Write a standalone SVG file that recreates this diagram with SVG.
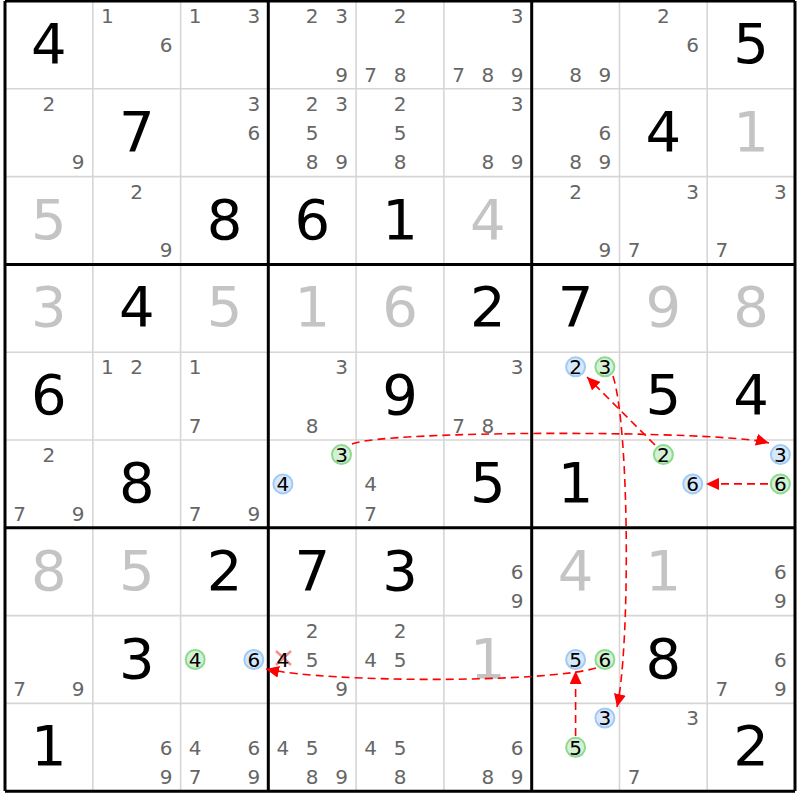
<svg xmlns="http://www.w3.org/2000/svg" width="800" height="800" viewBox="0 0 800 800">
<style>
text{font-family:"DejaVu Sans","Verdana",sans-serif;text-anchor:middle}
.g{font-size:56px;fill:#000}
.f{font-size:56px;fill:#c4c4c4}
.c{font-size:20px;fill:#666}
.k{font-size:20px;fill:#000}
.hb{fill:#d8e8fb;stroke:#9fcbf6;stroke-width:2}
.hg{fill:#d5f1d5;stroke:#8cda8c;stroke-width:2}
.thin{stroke:#d6d6d6;stroke-width:1.6}
.thick{stroke:#000;stroke-width:3}
.arr{fill:none;stroke:#f00;stroke-width:1.6;stroke-dasharray:8 5;marker-end:url(#ah)}
.x{stroke:#f59090;stroke-width:2.5}
</style>
<defs>
<marker id="ah" markerUnits="userSpaceOnUse" markerWidth="14" markerHeight="12" refX="13" refY="6" orient="auto"><path d="M0,0 L13,6 L0,12 z" fill="#f00"/></marker>
</defs>
<rect width="800" height="800" fill="#fff"/>
<g id="grid">
<path class="thin" d="M92.8,1V791M180.6,1V791M356.1,1V791M443.9,1V791M619.5,1V791M707.2,1V791M5,88.8H795M5,176.6H795M5,352.2H795M5,440H795M5,615.6H795M5,703.4H795"/>
<path class="thick" d="M5,1V791M268.3,1V791M531.7,1V791M795,1V791M5,1H795M5,264.4H795M5,527.8H795M5,791.2H795"/>
</g>
<g id="r1c1"><text class="g" x="48.9" y="63">4</text></g>
<g id="r1c2"><text class="c" x="107.4" y="22.9">1</text><text class="c" x="166" y="52.2">6</text></g>
<g id="r1c3"><text class="c" x="195.2" y="22.9">1</text><text class="c" x="253.8" y="22.9">3</text></g>
<g id="r1c4"><text class="c" x="312.2" y="22.9">2</text><text class="c" x="341.5" y="22.9">3</text><text class="c" x="341.5" y="81.5">9</text></g>
<g id="r1c5"><text class="c" x="400" y="22.9">2</text><text class="c" x="370.7" y="81.5">7</text><text class="c" x="400" y="81.5">8</text></g>
<g id="r1c6"><text class="c" x="517.1" y="22.9">3</text><text class="c" x="458.5" y="81.5">7</text><text class="c" x="487.8" y="81.5">8</text><text class="c" x="517.1" y="81.5">9</text></g>
<g id="r1c7"><text class="c" x="575.6" y="81.5">8</text><text class="c" x="604.9" y="81.5">9</text></g>
<g id="r1c8"><text class="c" x="663.4" y="22.9">2</text><text class="c" x="692.7" y="52.2">6</text></g>
<g id="r1c9"><text class="g" x="751.1" y="63">5</text></g>

<g id="r2c1"><text class="c" x="48.9" y="110.7">2</text><text class="c" x="78.2" y="169.3">9</text></g>
<g id="r2c2"><text class="g" x="136.7" y="150.8">7</text></g>
<g id="r2c3"><text class="c" x="253.8" y="110.7">3</text><text class="c" x="253.8" y="140">6</text></g>
<g id="r2c4"><text class="c" x="312.2" y="110.7">2</text><text class="c" x="341.5" y="110.7">3</text><text class="c" x="312.2" y="140">5</text><text class="c" x="312.2" y="169.3">8</text><text class="c" x="341.5" y="169.3">9</text></g>
<g id="r2c5"><text class="c" x="400" y="110.7">2</text><text class="c" x="400" y="140">5</text><text class="c" x="400" y="169.3">8</text></g>
<g id="r2c6"><text class="c" x="517.1" y="110.7">3</text><text class="c" x="487.8" y="169.3">8</text><text class="c" x="517.1" y="169.3">9</text></g>
<g id="r2c7"><text class="c" x="604.9" y="140">6</text><text class="c" x="575.6" y="169.3">8</text><text class="c" x="604.9" y="169.3">9</text></g>
<g id="r2c8"><text class="g" x="663.4" y="150.8">4</text></g>
<g id="r2c9"><text class="f" x="751.1" y="150.8">1</text></g>

<g id="r3c1"><text class="f" x="48.9" y="238.6">5</text></g>
<g id="r3c2"><text class="c" x="136.7" y="198.5">2</text><text class="c" x="166" y="257.1">9</text></g>
<g id="r3c3"><text class="g" x="224.5" y="238.6">8</text></g>
<g id="r3c4"><text class="g" x="312.2" y="238.6">6</text></g>
<g id="r3c5"><text class="g" x="400" y="238.6">1</text></g>
<g id="r3c6"><text class="f" x="487.8" y="238.6">4</text></g>
<g id="r3c7"><text class="c" x="575.6" y="198.5">2</text><text class="c" x="604.9" y="257.1">9</text></g>
<g id="r3c8"><text class="c" x="692.7" y="198.5">3</text><text class="c" x="634.1" y="257.1">7</text></g>
<g id="r3c9"><text class="c" x="780.4" y="198.5">3</text><text class="c" x="721.8" y="257.1">7</text></g>

<g id="r4c1"><text class="f" x="48.9" y="326.4">3</text></g>
<g id="r4c2"><text class="g" x="136.7" y="326.4">4</text></g>
<g id="r4c3"><text class="f" x="224.5" y="326.4">5</text></g>
<g id="r4c4"><text class="f" x="312.2" y="326.4">1</text></g>
<g id="r4c5"><text class="f" x="400" y="326.4">6</text></g>
<g id="r4c6"><text class="g" x="487.8" y="326.4">2</text></g>
<g id="r4c7"><text class="g" x="575.6" y="326.4">7</text></g>
<g id="r4c8"><text class="f" x="663.4" y="326.4">9</text></g>
<g id="r4c9"><text class="f" x="751.1" y="326.4">8</text></g>

<g id="r5c1"><text class="g" x="48.9" y="414.2">6</text></g>
<g id="r5c2"><text class="c" x="107.4" y="374.1">1</text><text class="c" x="136.7" y="374.1">2</text></g>
<g id="r5c3"><text class="c" x="195.2" y="374.1">1</text><text class="c" x="195.2" y="432.7">7</text></g>
<g id="r5c4"><text class="c" x="341.5" y="374.1">3</text><text class="c" x="312.2" y="432.7">8</text></g>
<g id="r5c5"><text class="g" x="400" y="414.2">9</text></g>
<g id="r5c6"><text class="c" x="517.1" y="374.1">3</text><text class="c" x="458.5" y="432.7">7</text><text class="c" x="487.8" y="432.7">8</text></g>
<g id="r5c7"><circle class="hb" cx="575.6" cy="366.8" r="9.5"/><text class="k" x="575.6" y="374.1">2</text><circle class="hg" cx="604.9" cy="366.8" r="9.5"/><text class="k" x="604.9" y="374.1">3</text></g>
<g id="r5c8"><text class="g" x="663.4" y="414.2">5</text></g>
<g id="r5c9"><text class="g" x="751.1" y="414.2">4</text></g>

<g id="r6c1"><text class="c" x="48.9" y="461.9">2</text><text class="c" x="19.6" y="520.5">7</text><text class="c" x="78.2" y="520.5">9</text></g>
<g id="r6c2"><text class="g" x="136.7" y="502">8</text></g>
<g id="r6c3"><text class="c" x="195.2" y="520.5">7</text><text class="c" x="253.8" y="520.5">9</text></g>
<g id="r6c4"><circle class="hg" cx="341.5" cy="454.6" r="9.5"/><text class="k" x="341.5" y="461.9">3</text><circle class="hb" cx="282.9" cy="483.9" r="9.5"/><text class="k" x="282.9" y="491.2">4</text></g>
<g id="r6c5"><text class="c" x="370.7" y="491.2">4</text><text class="c" x="370.7" y="520.5">7</text></g>
<g id="r6c6"><text class="g" x="487.8" y="502">5</text></g>
<g id="r6c7"><text class="g" x="575.6" y="502">1</text></g>
<g id="r6c8"><circle class="hg" cx="663.4" cy="454.6" r="9.5"/><text class="k" x="663.4" y="461.9">2</text><circle class="hb" cx="692.7" cy="483.9" r="9.5"/><text class="k" x="692.7" y="491.2">6</text></g>
<g id="r6c9"><circle class="hb" cx="780.4" cy="454.6" r="9.5"/><text class="k" x="780.4" y="461.9">3</text><circle class="hg" cx="780.4" cy="483.9" r="9.5"/><text class="k" x="780.4" y="491.2">6</text></g>

<g id="r7c1"><text class="f" x="48.9" y="589.8">8</text></g>
<g id="r7c2"><text class="f" x="136.7" y="589.8">5</text></g>
<g id="r7c3"><text class="g" x="224.5" y="589.8">2</text></g>
<g id="r7c4"><text class="g" x="312.2" y="589.8">7</text></g>
<g id="r7c5"><text class="g" x="400" y="589.8">3</text></g>
<g id="r7c6"><text class="c" x="517.1" y="579">6</text><text class="c" x="517.1" y="608.3">9</text></g>
<g id="r7c7"><text class="f" x="575.6" y="589.8">4</text></g>
<g id="r7c8"><text class="f" x="663.4" y="589.8">1</text></g>
<g id="r7c9"><text class="c" x="780.4" y="579">6</text><text class="c" x="780.4" y="608.3">9</text></g>

<g id="r8c1"><text class="c" x="19.6" y="696.1">7</text><text class="c" x="78.2" y="696.1">9</text></g>
<g id="r8c2"><text class="g" x="136.7" y="677.6">3</text></g>
<g id="r8c3"><circle class="hg" cx="195.2" cy="659.5" r="9.5"/><text class="k" x="195.2" y="666.8">4</text><circle class="hb" cx="253.8" cy="659.5" r="9.5"/><text class="k" x="253.8" y="666.8">6</text></g>
<g id="r8c4"><text class="c" x="312.2" y="637.5">2</text><path class="x" d="M276,651L291,665M291,651L276,665"/><text class="k" x="282.9" y="666.8">4</text><text class="c" x="312.2" y="666.8">5</text><text class="c" x="341.5" y="696.1">9</text></g>
<g id="r8c5"><text class="c" x="400" y="637.5">2</text><text class="c" x="370.7" y="666.8">4</text><text class="c" x="400" y="666.8">5</text></g>
<g id="r8c6"><text class="f" x="487.8" y="677.6">1</text></g>
<g id="r8c7"><circle class="hb" cx="575.6" cy="659.5" r="9.5"/><text class="k" x="575.6" y="666.8">5</text><circle class="hg" cx="604.9" cy="659.5" r="9.5"/><text class="k" x="604.9" y="666.8">6</text></g>
<g id="r8c8"><text class="g" x="663.4" y="677.6">8</text></g>
<g id="r8c9"><text class="c" x="780.4" y="666.8">6</text><text class="c" x="721.8" y="696.1">7</text><text class="c" x="780.4" y="696.1">9</text></g>

<g id="r9c1"><text class="g" x="48.9" y="765.4">1</text></g>
<g id="r9c2"><text class="c" x="166" y="754.6">6</text><text class="c" x="166" y="783.9">9</text></g>
<g id="r9c3"><text class="c" x="195.2" y="754.6">4</text><text class="c" x="253.8" y="754.6">6</text><text class="c" x="195.2" y="783.9">7</text><text class="c" x="253.8" y="783.9">9</text></g>
<g id="r9c4"><text class="c" x="282.9" y="754.6">4</text><text class="c" x="312.2" y="754.6">5</text><text class="c" x="312.2" y="783.9">8</text><text class="c" x="341.5" y="783.9">9</text></g>
<g id="r9c5"><text class="c" x="370.7" y="754.6">4</text><text class="c" x="400" y="754.6">5</text><text class="c" x="400" y="783.9">8</text></g>
<g id="r9c6"><text class="c" x="517.1" y="754.6">6</text><text class="c" x="487.8" y="783.9">8</text><text class="c" x="517.1" y="783.9">9</text></g>
<g id="r9c7"><circle class="hb" cx="604.9" cy="718" r="9.5"/><text class="k" x="604.9" y="725.3">3</text><circle class="hg" cx="575.6" cy="747.3" r="9.5"/><text class="k" x="575.6" y="754.6">5</text></g>
<g id="r9c8"><text class="c" x="692.7" y="725.3">3</text><text class="c" x="634.1" y="783.9">7</text></g>
<g id="r9c9"><text class="g" x="751.1" y="765.4">2</text></g>

<g id="connectors">
<path class="arr" d="M596,668 C545,683 330,683 266,669"/>
<path class="arr" d="M575.6,736 L575.6,671"/>
<path class="arr" d="M613,376 C630,430 630,650 617,707"/>
<path class="arr" d="M655,445 L587,377"/>
<path class="arr" d="M352,444 C385,430 720,430 769,443"/>
<path class="arr" d="M768,483.9 L706,483.9"/>
</g>
</svg>
